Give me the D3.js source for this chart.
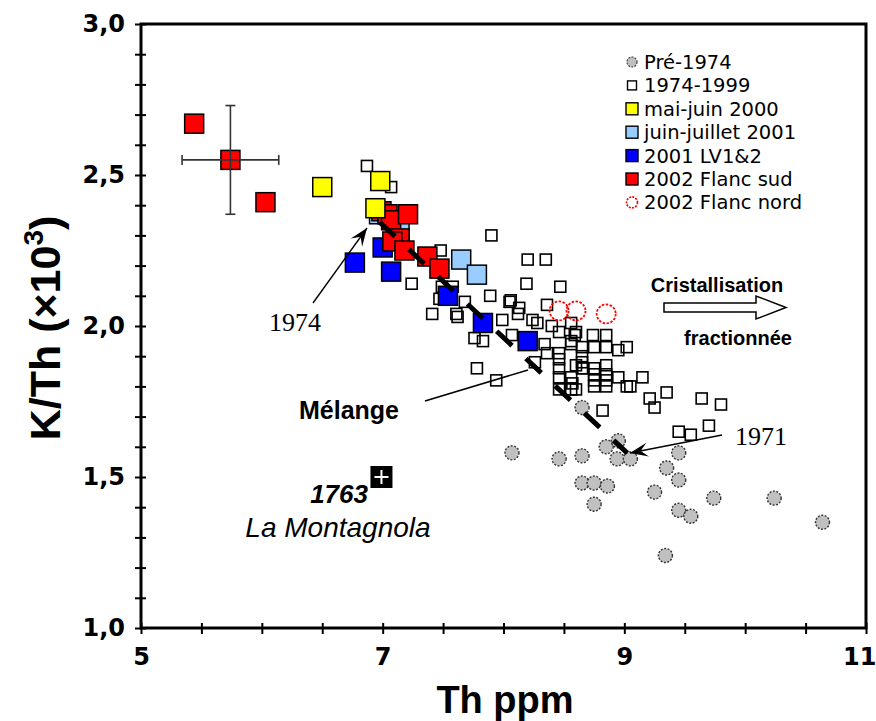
<!DOCTYPE html>
<html><head><meta charset="utf-8">
<script src="https://cdn.jsdelivr.net/npm/d3@7"></script>
<style>body{margin:0;background:#fff}svg{display:block}</style>
</head><body>
<svg id="c" width="876" height="721"></svg>
<script>
// ---- data (Th ppm, K/Th x10^3) ----
const pre1974 = [[8.07,1.58],[8.46,1.56],[8.65,1.57],[8.65,1.73],[8.65,1.48],[8.75,1.48],[8.86,1.47],[8.75,1.41],[8.85,1.60],[8.95,1.62],[8.94,1.56],[9.05,1.56],[9.45,1.58],[9.35,1.53],[9.45,1.49],[9.25,1.45],[9.45,1.39],[9.55,1.37],[9.74,1.43],[10.24,1.43],[10.64,1.35],[9.34,1.24]];
const s1974_1999 = [[6.87,2.53],[7.07,2.46],[7.48,2.25],[7.24,2.14],[7.41,2.04],[7.49,2.13],[7.58,2.13],[7.47,2.09],[7.61,2.04],[7.90,2.30],[8.20,2.22],[8.35,2.22],[8.19,2.14],[8.47,2.13],[7.89,2.10],[8.05,2.08],[8.06,2.085],[8.13,2.06],[8.12,2.04],[8.36,2.07],[7.68,2.08],[7.99,2.02],[8.24,2.02],[8.28,2.01],[8.40,2.00],[8.46,1.98],[8.60,1.98],[8.74,1.97],[8.85,1.97],[8.07,1.97],[7.76,1.96],[7.83,1.95],[8.34,1.94],[8.36,1.91],[8.46,1.91],[8.46,1.89],[8.46,1.86],[8.46,1.83],[8.46,1.79],[8.56,1.95],[8.56,1.94],[8.65,1.93],[8.65,1.90],[8.60,1.87],[8.66,1.86],[8.75,1.86],[8.85,1.87],[8.75,1.84],[8.85,1.84],[8.75,1.82],[8.85,1.82],[8.95,1.92],[9.02,1.93],[8.95,1.83],[9.02,1.80],[8.56,1.83],[8.57,1.81],[8.60,1.79],[8.26,1.88],[7.78,1.86],[7.94,1.82],[8.82,1.72],[8.56,2.01],[8.59,1.97],[8.75,1.93],[8.85,1.93],[8.65,1.88],[8.65,1.86],[8.75,1.80],[8.85,1.80],[9.15,1.83],[9.21,1.76],[9.25,1.73],[9.35,1.78],[9.64,1.76],[9.80,1.74],[9.45,1.65],[9.55,1.64],[9.70,1.67],[9.05,1.80],[8.56,1.79],[7.62,2.03]];
const maiJuin2000 = [[6.50,2.46],[6.98,2.48],[6.94,2.39]];
const juinJuillet2001 = [[6.97,2.37],[7.14,2.32],[7.65,2.22],[7.78,2.17]];
const lv2001 = [[6.77,2.21],[7.00,2.26],[7.07,2.18],[7.54,2.10],[7.83,2.01],[8.20,1.95]];
const flancSud2002 = [[5.44,2.67],[5.74,2.55],[6.03,2.41],[6.99,2.38],[7.04,2.37],[7.07,2.35],[7.21,2.37],[7.14,2.29],[7.08,2.28],[7.18,2.25],[7.37,2.23],[7.47,2.19]];
const flancNord2002 = [[8.46,2.05],[8.60,2.05],[8.85,2.04]];
const errorBar = {x:5.74, y:2.55, dx:0.40, dy:0.18};
const montagnola = [6.99,1.50];
const mixLine = [[6.975,2.344],[9.025,1.579]];
const legendLabels = ["Pré-1974","1974-1999","mai-juin 2000","juin-juillet 2001","2001 LV1&2","2002 Flanc sud","2002 Flanc nord"];
const xTickLabels = [5,7,9,11];
const yTickLabels = [1.0,1.5,2.0,2.5,3.0];

const svg = d3.select("#c");
const x = d3.scaleLinear().domain([5,11]).range([141,866]);
const y = d3.scaleLinear().domain([1,3]).range([628,24]);
const SANS = "'Liberation Sans', Arial, sans-serif";

// axes
const yAx = svg.append("g").attr("transform","translate(141,0)")
  .call(d3.axisLeft(y).tickValues(d3.range(10,31).map(d=>d/10)).tickSize(6).tickPadding(10)
    .tickFormat(d => yTickLabels.some(v=>Math.abs(v-d)<1e-6) ? d3.format(".1f")(d).replace(".",",") : ""));
yAx.select(".domain").remove();
yAx.selectAll("line").attr("x1",5).attr("stroke","#000").attr("stroke-width",2);
yAx.selectAll("text").attr("font-family","'DejaVu Sans', sans-serif").attr("font-weight","bold").attr("font-size",24).attr("fill","#000");

const xAx = svg.append("g").attr("transform","translate(0,628)")
  .call(d3.axisBottom(x).tickValues(d3.range(10,23).map(d=>d/2)).tickSize(6).tickPadding(14)
    .tickFormat(d => xTickLabels.includes(d) ? String(d) : ""));
xAx.select(".domain").remove();
xAx.selectAll("line").attr("y1",-5).attr("stroke","#000").attr("stroke-width",2);
xAx.selectAll("text").attr("font-family","'DejaVu Sans', sans-serif").attr("font-weight","bold").attr("font-size",24).attr("fill","#000")
  .filter(d=>d===11).attr("text-anchor","end").attr("dx",10);

svg.append("rect").attr("x",x(5)).attr("y",y(3)).attr("width",x(11)-x(5)).attr("height",y(1)-y(3))
  .attr("fill","none").attr("stroke","#000").attr("stroke-width",3);

// axis titles
svg.append("text").attr("x",505).attr("y",713).attr("text-anchor","middle")
  .attr("font-family",SANS).attr("font-weight","bold").attr("font-size",38).text("Th ppm");
const yt = svg.append("text").attr("transform","translate(60,328) rotate(-90)").attr("text-anchor","middle")
  .attr("font-family",SANS).attr("font-weight","bold").attr("font-size",43);
yt.append("tspan").text("K/Th (×10");
yt.append("tspan").attr("font-size",28).attr("dy",-17).text("3");
yt.append("tspan").attr("dy",17).text(")");

// 1974-1999 open squares
const g = svg.append("g");
g.selectAll(".os").data(s1974_1999).join("rect").attr("class","os")
  .attr("x",d=>x(d[0])-5.5).attr("y",d=>y(d[1])-5.5).attr("width",11).attr("height",11)
  .attr("fill","none").attr("stroke","#000").attr("stroke-width",1.6);
// pre-1974 gray circles
g.selectAll(".pc").data(pre1974).join("circle").attr("class","pc")
  .attr("cx",d=>x(d[0])).attr("cy",d=>y(d[1])).attr("r",7)
  .attr("fill","#c0c0c0").attr("stroke","#333").attr("stroke-width",1.4).attr("stroke-dasharray","2,1.5");
// flanc nord red circles
g.selectAll(".nc").data(flancNord2002).join("circle").attr("class","nc")
  .attr("cx",d=>x(d[0])).attr("cy",d=>y(d[1])).attr("r",9.5)
  .attr("fill","none").attr("stroke","#ff0000").attr("stroke-width",1.8).attr("stroke-dasharray","2.5,1.5");

// dashed mixing line
svg.append("line").attr("x1",x(mixLine[0][0])).attr("y1",y(mixLine[0][1]))
  .attr("x2",x(mixLine[1][0])).attr("y2",y(mixLine[1][1]))
  .attr("stroke","#000").attr("stroke-width",5).attr("stroke-dasharray","21,19");

function sq(data, fill, cls){
  g.selectAll("."+cls).data(data).join("rect").attr("class",cls)
   .attr("x",d=>x(d[0])-9.5).attr("y",d=>y(d[1])-9.5).attr("width",19).attr("height",19)
   .attr("fill",fill).attr("stroke","#000").attr("stroke-width",1.5);
}
sq(lv2001,"#0000ff","lv");
sq(juinJuillet2001,"#99ccff","jj");
// error bar
const eb = svg.append("g").attr("stroke","#333").attr("stroke-width",1.6);
eb.append("line").attr("x1",x(errorBar.x-errorBar.dx)).attr("x2",x(errorBar.x+errorBar.dx)).attr("y1",y(errorBar.y)).attr("y2",y(errorBar.y));
eb.append("line").attr("x1",x(errorBar.x)).attr("x2",x(errorBar.x)).attr("y1",y(errorBar.y-errorBar.dy)).attr("y2",y(errorBar.y+errorBar.dy));
[errorBar.x-errorBar.dx, errorBar.x+errorBar.dx].forEach(v=>eb.append("line").attr("x1",x(v)).attr("x2",x(v)).attr("y1",y(errorBar.y)-5).attr("y2",y(errorBar.y)+5));
[errorBar.y-errorBar.dy, errorBar.y+errorBar.dy].forEach(v=>eb.append("line").attr("x1",x(errorBar.x)-5).attr("x2",x(errorBar.x)+5).attr("y1",y(v)).attr("y2",y(v)));
sq(flancSud2002,"#ff0000","fs");
sq(maiJuin2000,"#ffff00","mj");

// La Montagnola
const mx=x(montagnola[0]), my=y(montagnola[1]);
svg.append("rect").attr("x",mx-11).attr("y",my-11).attr("width",22).attr("height",22).attr("fill","#000");
svg.append("path").attr("d",`M${mx-7},${my}H${mx+7}M${mx},${my-7}V${my+7}`).attr("stroke","#fff").attr("stroke-width",2);
svg.append("text").attr("x",368).attr("y",503).attr("text-anchor","end").attr("font-family",SANS)
  .attr("font-style","italic").attr("font-weight","bold").attr("font-size",26).text("1763");
svg.append("text").attr("x",338).attr("y",537).attr("text-anchor","middle").attr("font-family",SANS)
  .attr("font-style","italic").attr("font-size",28).text("La Montagnola");

// Mélange
svg.append("text").attr("x",349).attr("y",419).attr("text-anchor","middle").attr("font-family",SANS)
  .attr("font-weight","bold").attr("font-size",25).text("Mélange");
svg.append("line").attr("x1",425).attr("y1",401).attr("x2",528).attr("y2",370).attr("stroke","#000").attr("stroke-width",1.6);

// arrows 1974 / 1971
function arrow(x1,y1,x2,y2){
  svg.append("line").attr("x1",x1).attr("y1",y1).attr("x2",x2).attr("y2",y2).attr("stroke","#000").attr("stroke-width",1.4);
  const a=Math.atan2(y2-y1,x2-x1), L=18, W=7;
  const bx=x2-L*Math.cos(a), by=y2-L*Math.sin(a);
  const mx2=x2-L*0.6*Math.cos(a), my2=y2-L*0.6*Math.sin(a);
  const px=-Math.sin(a), py=Math.cos(a);
  svg.append("path").attr("d",`M${x2},${y2}L${bx+W*px},${by+W*py}L${mx2},${my2}L${bx-W*px},${by-W*py}Z`).attr("fill","#000");
}
arrow(313,303,367,228);
arrow(722,435,630,453);
svg.append("text").attr("x",295).attr("y",331).attr("text-anchor","middle").attr("font-family","'Liberation Serif','Times New Roman',serif").attr("font-size",26).text("1974");
svg.append("text").attr("x",761).attr("y",445).attr("text-anchor","middle").attr("font-family","'Liberation Serif','Times New Roman',serif").attr("font-size",26).text("1971");

// Cristallisation fractionnée
svg.append("text").attr("x",717).attr("y",292).attr("text-anchor","middle").attr("font-family",SANS)
  .attr("font-weight","bold").attr("font-size",20).text("Cristallisation");
svg.append("text").attr("x",738).attr("y",345).attr("text-anchor","middle").attr("font-family",SANS)
  .attr("font-weight","bold").attr("font-size",20).text("fractionnée");
svg.append("path").attr("d","M664,303H756V296L786,307.5L756,319V312H664Z").attr("fill","#fff").attr("stroke","#000").attr("stroke-width",1.5);

// legend
const lg = svg.append("g");
const ly0=62, ldy=23.4, lx=632;
legendLabels.forEach((t,i)=>{
  const yy=ly0+i*ldy;
  if(i===0) lg.append("circle").attr("cx",lx).attr("cy",yy).attr("r",5).attr("fill","#c0c0c0").attr("stroke","#444").attr("stroke-width",1.2).attr("stroke-dasharray","2,1.2");
  else if(i===1) lg.append("rect").attr("x",lx-4.5).attr("y",yy-4.5).attr("width",9).attr("height",9).attr("fill","none").attr("stroke","#000").attr("stroke-width",1.4);
  else if(i===6) lg.append("circle").attr("cx",lx).attr("cy",yy).attr("r",5.5).attr("fill","none").attr("stroke","#ff0000").attr("stroke-width",1.6).attr("stroke-dasharray","2,1.2");
  else {
    const fills=["","","#ffff00","#99ccff","#0000ff","#ff0000"];
    lg.append("rect").attr("x",lx-6).attr("y",yy-6).attr("width",12).attr("height",12).attr("fill",fills[i]).attr("stroke","#000").attr("stroke-width",1.4);
  }
  lg.append("text").attr("x",644).attr("y",yy+7).attr("font-family","'DejaVu Sans', sans-serif").attr("font-size",19.5).text(t);
});
</script>
</body></html>
